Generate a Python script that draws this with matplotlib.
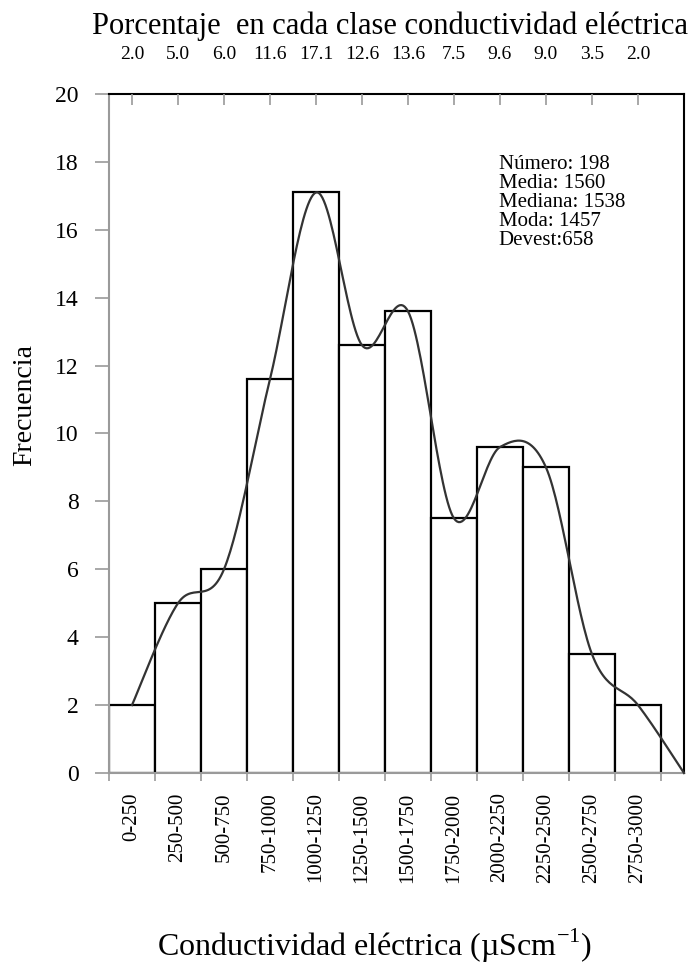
import numpy as np
import matplotlib
matplotlib.use("Agg")
import matplotlib.pyplot as plt

plt.rcParams['font.family'] = ['Liberation Serif', 'DejaVu Serif']

# classes and frequencies
clases = ["0-250", "250-500", "500-750", "750-1000", "1000-1250", "1250-1500",
          "1500-1750", "1750-2000", "2000-2250", "2250-2500", "2500-2750", "2750-3000"]
frecuencia = [2.0, 5.0, 6.0, 11.6, 17.1, 12.6, 13.6, 7.5, 9.6, 9.0, 3.5, 2.0]
porcentaje = ["2.0", "5.0", "6.0", "11.6", "17.1", "12.6", "13.6", "7.5", "9.6", "9.0", "3.5", "2.0"]
# smoothed line ends at zero half a class after the last one
curva_fin_y = 0.0

stats = ["Número: 198", "Media: 1560", "Mediana: 1538", "Moda: 1457", "Devest:658"]

gray = "#9a9a9a"

fig = plt.figure(figsize=(6.92, 9.75), dpi=100)
ax = fig.add_axes([0.1575, 0.2072, 0.8309, 0.6964])

n = len(frecuencia)
centros = np.arange(n) + 0.5
ax.bar(centros, frecuencia, width=1.0, facecolor="white", edgecolor="black",
       linewidth=1.6, zorder=2)

# Excel-style smooth line (Catmull-Rom bezier) through bar tops
px = np.append(centros, n + 0.5)
py = np.append(frecuencia, curva_fin_y)
xs, ys = [], []
t = np.linspace(0, 1, 30)
for i in range(len(px) - 1):
    p0 = np.array([px[max(i - 1, 0)], py[max(i - 1, 0)]])
    p1 = np.array([px[i], py[i]])
    p2 = np.array([px[i + 1], py[i + 1]])
    p3 = np.array([px[min(i + 2, len(px) - 1)], py[min(i + 2, len(px) - 1)]])
    c1 = p1 + (p2 - p0) / 6
    c2 = p2 - (p3 - p1) / 6
    b = ((1 - t) ** 3)[:, None] * p1 + (3 * (1 - t) ** 2 * t)[:, None] * c1 \
        + (3 * (1 - t) * t ** 2)[:, None] * c2 + (t ** 3)[:, None] * p2
    xs.extend(b[:, 0])
    ys.extend(b[:, 1])
ax.plot(xs, ys, color="#333333", lw=1.6, zorder=3, clip_on=False)

ax.set_xlim(0, n + 0.5)
ax.set_ylim(0, 20)
ax.set_yticks(np.arange(0, 21, 2))
ax.tick_params(axis="y", direction="out", length=10, width=1.2, color=gray,
               labelsize=17, pad=12)

ax.set_xticks(np.arange(0, n + 1))
ax.set_xticklabels([])
ax.set_xticks(centros, minor=True)
ax.set_xticklabels(clases, minor=True, rotation=90, fontsize=15)
ax.tick_params(axis="x", which="major", direction="inout", length=12, width=1.2, color=gray)
ax.tick_params(axis="x", which="minor", direction="in", length=3, width=1, color=gray, pad=14)

for s in ["left", "bottom"]:
    ax.spines[s].set_color(gray)
    ax.spines[s].set_linewidth(1.5)
for s in ["top", "right"]:
    ax.spines[s].set_color("black")
    ax.spines[s].set_linewidth(1.5)

top = ax.twiny()
top.set_xlim(ax.get_xlim())
top.set_xticks(centros)
top.set_xticklabels(porcentaje, fontsize=14)
top.tick_params(axis="x", direction="in", length=8, width=1.2, color=gray, pad=22)
for s in top.spines.values():
    s.set_visible(False)

ax.set_ylabel("Frecuencia", fontsize=20)
ax.yaxis.set_label_coords(-0.125, 0.542)
ax.set_xlabel("Conductividad eléctrica (µScm$^{\\mathregular{-1}}$)", fontsize=23)
ax.xaxis.set_label_coords(0.461, -0.226)

fig.text(0.563, 0.973, "Porcentaje  en cada clase conductividad eléctrica",
         fontsize=22, ha="center", va="center")

ax.text(0.678, 0.91, "\n".join(stats), transform=ax.transAxes, fontsize=15,
        va="top", ha="left", linespacing=1.0)

fig.savefig("out.png", dpi=100)
